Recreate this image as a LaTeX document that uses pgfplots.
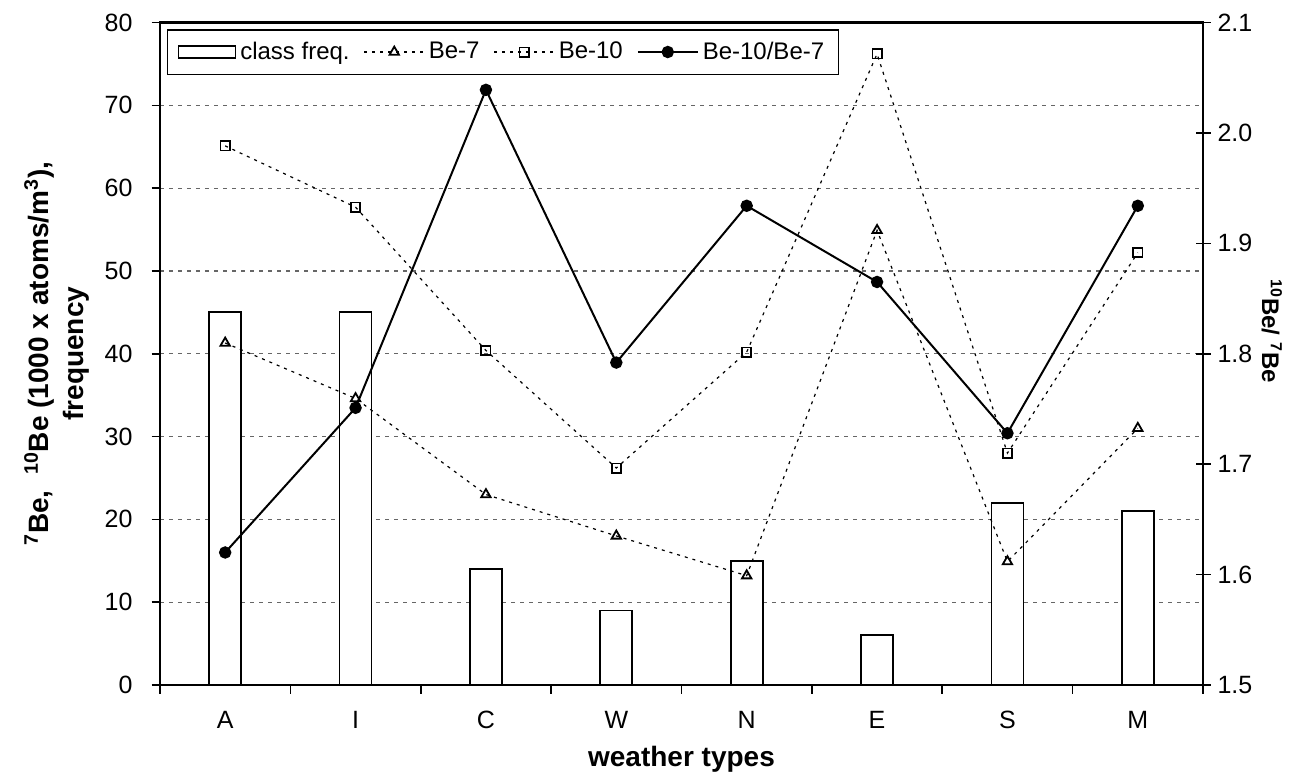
\documentclass[border=0pt]{standalone}
\usepackage{fontspec}
\setmainfont{Liberation Sans}
\usepackage{pgfplots}
\pgfplotsset{compat=1.18}
\pgfplotsset{
  lineleg/.style={legend image code/.code={\draw[mark repeat=2,mark phase=2,##1] plot coordinates {(0pt,0pt) (15pt,0pt) (30pt,0pt)};}},
  be7/.style={black, line width=0.6pt, dash pattern=on 1.5pt off 2.5pt, mark=triangle, mark size=2.7pt, mark options={solid, line width=0.9pt}},
  be10/.style={black, line width=0.6pt, dash pattern=on 1.5pt off 2.5pt, mark=square, mark size=2.3pt, mark options={solid, line width=0.9pt}},
  ratio/.style={black, line width=1pt, solid, mark=*, mark size=2.6pt},
  common/.style={
    at={(0,0)}, anchor=south west, scale only axis,
    width=521.5pt, height=331.25pt,
    xmin=-0.5, xmax=7.5,
    /pgf/number format/assume math mode=true,
    axis line style={line width=1.1pt},
  },
}
\begin{document}
\begin{tikzpicture}
\useasboundingbox (-80pt,-47.5pt) rectangle (568pt,342.5pt);
\begin{axis}[common,
  ymin=0, ymax=80,
  xtick={0,...,7}, xticklabels={A,I,C,W,N,E,S,M},
  minor xtick={-0.5,0.5,...,7.5},
  ytick={0,10,...,80},
  xtick pos=left, ytick pos=left,
  tick align=outside,
  major x tick style={draw=none},
  tick style={black, line width=0.8pt},
  major tick length=4.2pt, minor tick length=4.3pt,
  xticklabel style={font=\fontsize{12.5}{14}\selectfont, anchor=north, text height=14pt},
  yticklabel style={font=\fontsize{12.5}{14}\selectfont, xshift=-6pt},
  ymajorgrids,
  grid style={black!60, line width=0.6pt, dash pattern=on 2pt off 2.5pt},
  xlabel={weather types},
  xlabel style={font=\fontsize{14}{16}\selectfont\bfseries, at={(axis description cs:0.5,-0.112)}, anchor=center},
  ylabel={\textsuperscript{7}Be,\ \ \textsuperscript{10}Be (1000 x atoms/m\textsuperscript{3}),\\frequency},
  ylabel style={font=\fontsize{14}{17.5}\selectfont\bfseries, align=center, at={(axis description cs:-0.099,0.5)}, anchor=center},
]
\addplot[ybar, bar width=16pt, fill=white, draw=black, line width=0.85pt] coordinates {
(0,45) (1,45) (2,14) (3,9) (4,15) (5,6) (6,22) (7,21)};
\addplot[be7] coordinates {
(0,41.3) (1,34.6) (2,23.0) (3,18.0) (4,13.2) (5,54.9) (6,14.9) (7,31.0)};
\addplot[be10] coordinates {
(0,65.1) (1,57.7) (2,40.4) (3,26.2) (4,40.2) (5,76.2) (6,28.0) (7,52.2)};
\end{axis}
\begin{axis}[common,
  ymin=1.5, ymax=2.1,
  axis x line=none, axis y line*=right,
  ytick={1.5,1.6,1.7,1.8,1.9,2.0,2.1},
  yticklabel style={font=\fontsize{12.5}{14}\selectfont, /pgf/number format/.cd, fixed, fixed zerofill, precision=1},
  ytick align=center,
  tick style={black, line width=0.8pt},
  major tick length=7.5pt,
  ylabel={\textsuperscript{10}Be/ \textsuperscript{7}Be},
  ylabel style={font=\fontsize{12}{14}\selectfont\bfseries, at={(axis description cs:1.066,0.534)}, anchor=center, rotate=180},
  legend columns=4,
  legend style={at={(axis description cs:0.0067,0.990)}, anchor=north west, draw=black, line width=0.7pt,
    font=\fontsize{12}{14}\selectfont, inner xsep=5pt, inner ysep=4pt,
    /tikz/every even column/.append style={column sep=5pt}},
]
\addlegendimage{legend image code/.code={\draw[black, fill=white, line width=0.8pt] (0pt,-3pt) rectangle (28.5pt,3pt);}}
\addlegendentry{class freq.}
\addlegendimage{be7, lineleg}
\addlegendentry{Be-7}
\addlegendimage{be10, lineleg}
\addlegendentry{Be-10}
\addplot[ratio, lineleg] coordinates {
(0,1.620) (1,1.751) (2,2.039) (3,1.792) (4,1.934) (5,1.865) (6,1.728) (7,1.934)};
\addlegendentry{Be-10/Be-7}
\end{axis}
\end{tikzpicture}
\end{document}
